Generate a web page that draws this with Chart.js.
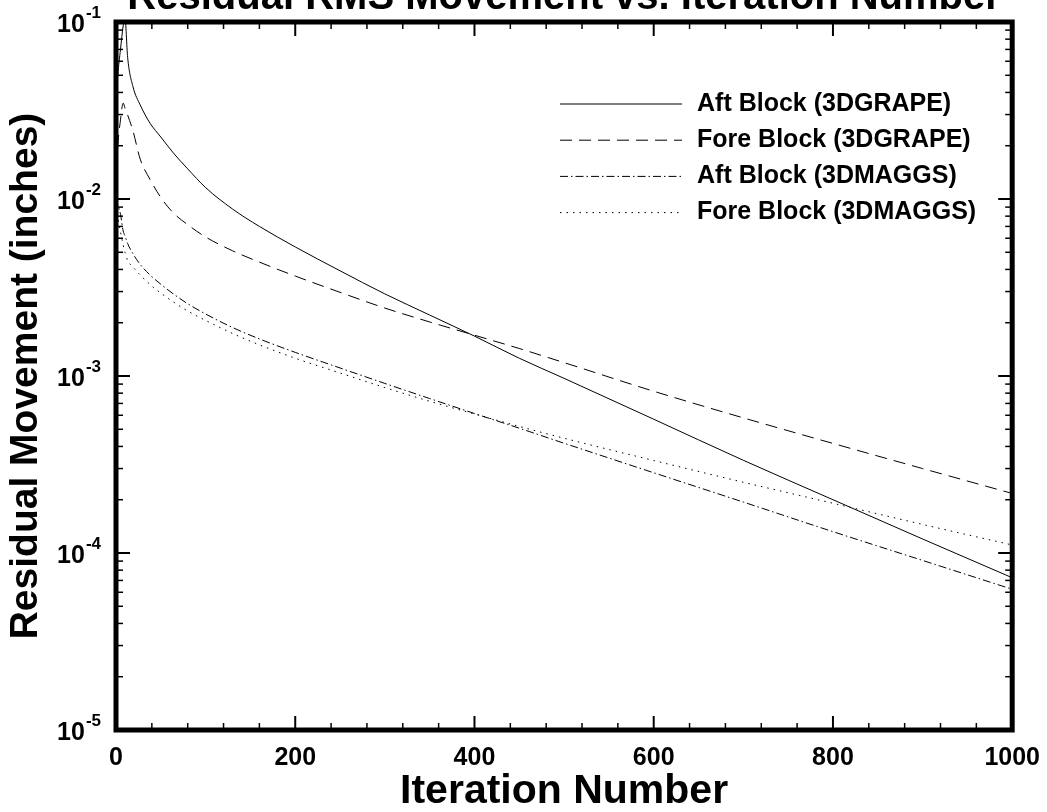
<!DOCTYPE html>
<html lang="en">
<head>
<meta charset="UTF-8">
<title>Residual RMS Movement vs. Iteration Number</title>
<script src="https://cdn.jsdelivr.net/npm/chart.js@4.4.1/dist/chart.umd.min.js"></script>
<style>
    html, body { margin: 0; padding: 0; background: #fff; overflow: hidden; }
    #wrap { position: relative; width: 1047px; height: 812px; overflow: hidden; }
    #myChart { position: absolute; left: 0; top: -26px; }
</style>
</head>
<body>
<div id="wrap"><canvas id="myChart" width="1053" height="843"></canvas></div>

<script>

    // iterations shared by all four curves
    var iterations = [0, 2, 5, 8, 10, 13, 19, 27, 38, 50, 64, 80, 100, 130, 160, 200,
        250, 300, 350, 400, 450, 500, 600, 700, 800, 900, 1000];

    var aftGrape = [0.035, 0.05, 0.07, 0.095, 0.105, 0.063, 0.043, 0.034, 0.0268, 0.0224, 0.0182, 0.0148, 0.0116,
        0.00878, 0.0070, 0.00536, 0.00393, 0.00291, 0.00221, 0.00168, 0.00126, 0.00097, 0.00057, 0.000334,
        0.0002, 0.00012, 0.0000725];

    var foreGrape = [0.012, 0.0197, 0.028, 0.0348, 0.0327, 0.0298, 0.0242, 0.0168, 0.0129, 0.0102, 0.00834, 0.00716, 0.0061,
        0.0051, 0.0044, 0.00367, 0.00297, 0.00242, 0.00202, 0.0017, 0.00143, 0.00119, 0.00082, 0.00058,
        0.000416, 0.0003, 0.000217];

    var aftMaggs = [0.0102, 0.0093, 0.0082, 0.0066, 0.0062, 0.0056, 0.0049, 0.00427, 0.00372, 0.0033, 0.00291, 0.00256, 0.00224,
        0.00188, 0.00162, 0.00136, 0.00111, 0.000908, 0.000746, 0.000614, 0.000507, 0.000417, 0.000284, 0.000194,
        0.000132, 0.0000908, 0.0000624];

    var foreMaggs = [0.009, 0.0078, 0.0065, 0.0055, 0.005, 0.0045, 0.00412, 0.00372, 0.00329, 0.00294, 0.00262, 0.00233, 0.00206,
        0.00174, 0.0015, 0.00126, 0.00104, 0.00086, 0.00072, 0.00061, 0.000519, 0.000445, 0.000333, 0.000251,
        0.000191, 0.000145, 0.000111];

    var seriesNames = ["Aft Block (3DGRAPE)", "Fore Block (3DGRAPE)", "Aft Block (3DMAGGS)", "Fore Block (3DMAGGS)"];

    var yExponents = [-5, -4, -3, -2, -1];
    var xTicksMajor = 200;
    var xTicksMinor = 40;

    var FONT = "'Liberation Sans', Arial, sans-serif";

    function toPoints(vals) {
        var pts = [];
        for (var i = 0; i < vals.length; i++) {
            pts.push({x: iterations[i], y: vals[i]});
        }
        return pts;
    }

    function makeSet(label, vals, dash) {
        return {
            label: label,
            data: toPoints(vals),
            borderColor: '#000',
            borderWidth: 1,
            borderDash: dash,
            pointRadius: 0,
            fill: false,
            cubicInterpolationMode: 'monotone'
        };
    }

    function strokeLine(ctx, x1, y1, x2, y2) {
        ctx.beginPath();
        ctx.moveTo(x1, y1);
        ctx.lineTo(x2, y2);
        ctx.stroke();
    }

    // inward ticks on all four sides + heavy frame
    var frameTicks = {
        id: 'frameTicks',
        afterDatasetsDraw: function (chart) {
            var ctx = chart.ctx;
            var a = chart.chartArea;
            var xs = chart.scales.x, ys = chart.scales.y;
            ctx.save();
            ctx.strokeStyle = '#000';
            for (var v = xs.min; v <= xs.max; v += xTicksMinor) {
                var px = xs.getPixelForValue(v);
                var major = (v % xTicksMajor === 0);
                var len = major ? 14 : 7;
                ctx.lineWidth = major ? 2 : 1.5;
                strokeLine(ctx, px, a.bottom, px, a.bottom - len);
                strokeLine(ctx, px, a.top, px, a.top + len);
            }
            for (var k = yExponents[0]; k <= yExponents[yExponents.length - 1]; k++) {
                for (var m = 1; m <= 9; m++) {
                    var val = m * Math.pow(10, k);
                    if (val > ys.max * 1.0001) break;
                    var py = ys.getPixelForValue(val);
                    var len2 = (m === 1) ? 14 : 7;
                    ctx.lineWidth = (m === 1) ? 2 : 1.5;
                    strokeLine(ctx, a.left, py, a.left + len2, py);
                    strokeLine(ctx, a.right, py, a.right - len2, py);
                }
            }
            ctx.lineWidth = 5;
            ctx.strokeRect(a.left, a.top, a.right - a.left, a.bottom - a.top);
            ctx.restore();
        },
        afterDraw: function (chart) {
            var ctx = chart.ctx;
            var ys = chart.scales.y;
            var a = chart.chartArea;
            ctx.save();
            ctx.fillStyle = '#000';
            ctx.textBaseline = 'alphabetic';
            ctx.textAlign = 'left';
            // y tick labels: 10 with superscript exponent
            yExponents.forEach(function (k) {
                var py = ys.getPixelForValue(Math.pow(10, k));
                var exp = String(k);
                ctx.font = 'bold 17px ' + FONT;
                var ew = ctx.measureText(exp).width;
                ctx.font = 'bold 25px ' + FONT;
                var bw = ctx.measureText('10').width;
                var right = a.left - 15;
                ctx.fillText('10', right - ew - bw - 1, py + 10);
                ctx.font = 'bold 17px ' + FONT;
                ctx.fillText(exp, right - ew, py - 4);
            });
            // legend inside the plot
            var lx1 = 560, lx2 = 682, tx = 697, ly = 104 + 26, step = 36.2;
            chart.data.datasets.forEach(function (ds, i) {
                var y = ly + i * step;
                ctx.strokeStyle = ds.borderColor;
                ctx.lineWidth = ds.borderWidth;
                ctx.setLineDash(ds.borderDash);
                strokeLine(ctx, lx1, y, lx2, y);
                ctx.setLineDash([]);
                ctx.font = 'bold 25px ' + FONT;
                ctx.textBaseline = 'middle';
                ctx.fillText(ds.label, tx, y);
            });
            ctx.restore();
        }
    };

    var config = {
        type: 'line',
        data: {
            datasets: [
                makeSet(seriesNames[0], aftGrape, []),
                makeSet(seriesNames[1], foreGrape, [12, 7]),
                makeSet(seriesNames[2], aftMaggs, [8, 3, 1.5, 3]),
                makeSet(seriesNames[3], foreMaggs, [1.5, 5])
            ]
        },
        options: {
            responsive: false,
            animation: false,
            devicePixelRatio: 1,
            layout: {padding: {left: 3, right: 0, top: 0, bottom: 0.6}},
            plugins: {
                legend: {display: false},
                tooltip: {enabled: false},
                title: {
                    display: true,
                    fullSize: false,
                    text: 'Residual RMS Movement vs. Iteration Number',
                    color: '#000',
                    font: {family: FONT, size: 40, weight: 'bold', lineHeight: 1.2},
                    padding: {top: 0, bottom: 0}
                }
            },
            scales: {
                x: {
                    type: 'linear',
                    min: 0,
                    max: 1000,
                    grid: {display: false, drawTicks: false},
                    border: {display: false},
                    ticks: {
                        stepSize: 200,
                        padding: 13,
                        color: '#000',
                        maxRotation: 0,
                        font: {family: FONT, size: 25, weight: 'bold', lineHeight: 1.2},
                        callback: function (v) { return String(v); }
                    },
                    title: {
                        display: true,
                        text: 'Iteration Number',
                        color: '#000',
                        font: {family: FONT, size: 41, weight: 'bold', lineHeight: 1.2},
                        padding: {top: -18.8, bottom: 0}
                    }
                },
                y: {
                    type: 'logarithmic',
                    min: 1e-5,
                    max: 1e-1,
                    grid: {display: false, drawTicks: false},
                    border: {display: false},
                    ticks: {display: false},
                    title: {
                        display: true,
                        text: 'Residual Movement (inches)',
                        color: '#000',
                        font: {family: FONT, size: 39, weight: 'bold', lineHeight: 1.2},
                        padding: {top: 0, bottom: 66.2}
                    }
                }
            }
        },
        plugins: [frameTicks]
    };

    var ctx = document.getElementById("myChart").getContext("2d");
    new Chart(ctx, config);

</script>
</body>
</html>
